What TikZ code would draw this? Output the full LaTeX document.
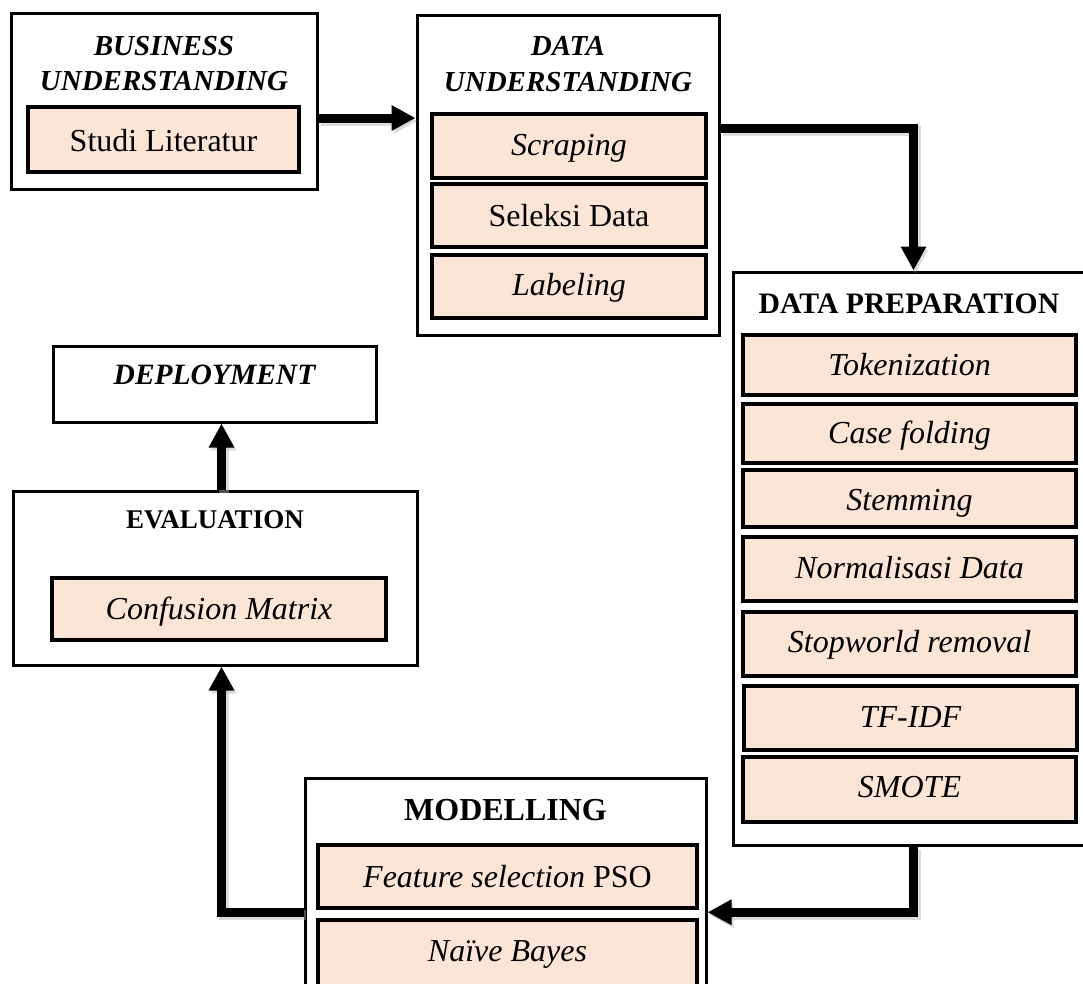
\documentclass[tikz,border=0pt]{standalone}
\usepackage{fontspec}
\setmainfont{Liberation Serif}
\usetikzlibrary{arrows.meta}
\definecolor{peach}{HTML}{FBE5D6}
\begin{document}
\begin{tikzpicture}[x=1pt,y=-1pt,
  obox/.style={draw=black, line width=3pt, fill=white, inner sep=0pt},
  ibox/.style={draw=black, line width=3.5pt, fill=peach, inner sep=0pt},
  ctxt/.style={anchor=base, inner sep=0pt, font=\fontsize{32}{38}\selectfont},
  ttl/.style={anchor=base, inner sep=0pt, font=\fontsize{#1}{#1}\selectfont\bfseries},
  arr/.style={line width=9pt, draw=black,
    preaction={draw=black!30, opacity=.45, line width=10pt,
      transform canvas={shift={(2pt,-3pt)}}},
    -{Triangle[length=24pt,width=24pt]}}]
\useasboundingbox (0,0) rectangle (1083,983);

% outer boxes
\node[obox, minimum width=306pt, minimum height=176pt] (bu) at (164,101) {};
\node[obox, minimum width=302pt, minimum height=320pt] (du) at (568,175) {};
\node[obox, minimum width=353pt, minimum height=573pt] (dp) at (909.5,558.5) {};
\node[obox, minimum width=401pt, minimum height=231.5pt] (mod) at (505.5,894.25) {};
\node[obox, minimum width=404pt, minimum height=174pt] (ev) at (215,578) {};
\node[obox, minimum width=323pt, minimum height=76pt] (dep) at (214.5,384) {};

% titles
\node[ttl=29] (t-bu1) at (164,55) {\itshape BUSINESS};
\node[ttl=29] (t-bu2) at (164,90) {\itshape UNDERSTANDING};
\node[ttl=29] (t-du1) at (568,55) {\itshape DATA};
\node[ttl=29] (t-du2) at (568,91) {\itshape UNDERSTANDING};
\node[ttl=29.7] (t-dp) at (909,313) {DATA PREPARATION};
\node[ttl=32] (t-mod) at (505.5,820) {MODELLING};
\node[ttl=27] (t-ev) at (215,528) {EVALUATION};
\node[ttl=29.5] (t-dep) at (214.5,384) {\itshape DEPLOYMENT};

% inner boxes
\node[ibox, minimum width=271pt, minimum height=65pt] (sl) at (163.5,139.5) {};
\node[ibox, minimum width=274pt, minimum height=64pt] (scr) at (569,146) {};
\node[ibox, minimum width=274pt, minimum height=63pt] (sel) at (569,215.5) {};
\node[ibox, minimum width=274pt, minimum height=63pt] (lab) at (569,286.5) {};
\node[ibox, minimum width=333pt, minimum height=60pt] (tok) at (909.5,365) {};
\node[ibox, minimum width=333pt, minimum height=59pt] (cf) at (909.5,433.5) {};
\node[ibox, minimum width=333pt, minimum height=57pt] (stem) at (909.5,498.5) {};
\node[ibox, minimum width=333pt, minimum height=64pt] (norm) at (909.5,569) {};
\node[ibox, minimum width=333pt, minimum height=64pt] (stop) at (909.5,644) {};
\node[ibox, minimum width=333pt, minimum height=64pt] (tfidf) at (910.5,718) {};
\node[ibox, minimum width=333pt, minimum height=65pt] (smote) at (909.5,789.5) {};
\node[ibox, minimum width=379pt, minimum height=63pt] (fs) at (507.5,876.5) {};
\node[ibox, minimum width=379pt, minimum height=80pt] (nb) at (507.5,960) {};
\node[ibox, minimum width=334pt, minimum height=62pt] (cm) at (219,609) {};

% inner texts
\node[ctxt] (x-sl) at (163.5,151) {Studi Literatur};
\node[ctxt] (x-scr) at (569,155) {\itshape Scraping};
\node[ctxt] (x-sel) at (569,226) {Seleksi Data};
\node[ctxt] (x-lab) at (569,295) {\itshape Labeling};
\node[ctxt] (x-tok) at (909.5,375) {\itshape Tokenization};
\node[ctxt] (x-cf) at (909.5,443) {\itshape Case folding};
\node[ctxt] (x-stem) at (909.5,510) {\itshape Stemming};
\node[ctxt] (x-norm) at (909.5,578) {\itshape Normalisasi Data};
\node[ctxt] (x-stop) at (909.5,652) {\itshape Stopworld removal};
\node[ctxt] (x-tfidf) at (910.5,727) {\itshape TF-IDF};
\node[ctxt] (x-smote) at (909.5,797) {\itshape SMOTE};
\node[ctxt] (x-fs) at (507.5,887) {\textit{Feature selection} PSO};
\node[ctxt] (x-nb) at (507.5,961) {\itshape Naïve Bayes};
\node[ctxt] (x-cm) at (219,619) {\itshape Confusion Matrix};

% connectors
\draw[arr] ([yshift=-17pt]bu.east) -- ([yshift=-17pt]bu.east -| du.west);
\draw[arr] ([yshift=47pt]du.east) -| ([xshift=4pt]dp.north);
\draw[arr] ([xshift=4pt]dp.south) |- ([yshift=-18pt]mod.east);
\draw[arr] ([yshift=-18pt]mod.west) -| ([xshift=6.5pt]ev.south);
\draw[arr] ([xshift=6.5pt]ev.north) -- ([xshift=6.5pt]ev.north |- dep.south);
\end{tikzpicture}
\end{document}
